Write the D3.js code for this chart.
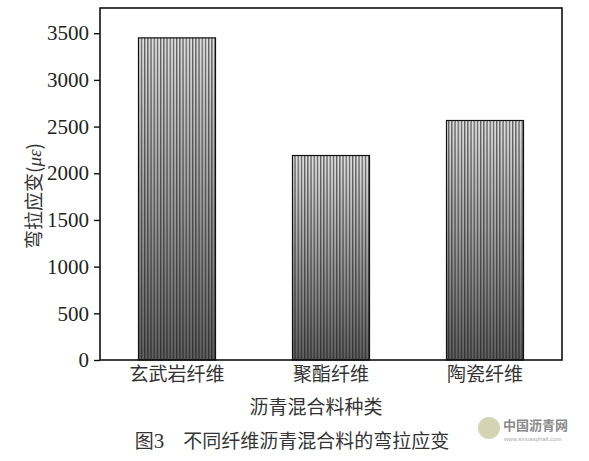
<!DOCTYPE html>
<html><head><meta charset="utf-8">
<script src="https://cdn.jsdelivr.net/npm/d3@7"></script>
<style>body{margin:0;background:#fff;}svg{display:block;}</style>
</head><body>
<script>
const categories = ["玄武岩纤维", "聚酯纤维", "陶瓷纤维"];
const values = [3450, 2190, 2565];
const yTicks = [0, 500, 1000, 1500, 2000, 2500, 3000, 3500];
const yLabel = "弯拉应变(με)";
const xLabel = "沥青混合料种类";
const caption = "图3\u3000不同纤维沥青混合料的弯拉应变";

const W = 589, H = 461;
const m = {left: 100, right: 27, top: 8, bottom: 101};
const SERIF = "'Liberation Serif', 'DejaVu Serif', serif";
const CJK = "'Noto Sans CJK SC', sans-serif";
const svg = d3.select("body").append("svg").attr("width", W).attr("height", H);
const defs = svg.append("defs");
const grad = defs.append("linearGradient").attr("id","g").attr("x1",0).attr("y1",0).attr("x2",0).attr("y2",1);
grad.append("stop").attr("offset","0%").attr("stop-color","#e0e0e0");
grad.append("stop").attr("offset","100%").attr("stop-color","#5e5e5e");
const pat = defs.append("pattern").attr("id","p").attr("patternUnits","userSpaceOnUse")
  .attr("width",3.2).attr("height",10);
pat.append("rect").attr("x",0).attr("y",0).attr("width",1.3).attr("height",10).attr("fill","#1a1a1a").attr("opacity",0.65);

const x = d3.scaleBand().domain(categories).range([m.left, W - m.right]).paddingInner(0.5).paddingOuter(0.25);
const y = d3.scaleLinear().domain([0, 3770]).range([H - m.bottom, m.top]);

const g = svg.append("g");
const bars = g.selectAll(".bar").data(categories).enter().append("g");
bars.append("rect").attr("x", d => x(d)).attr("width", x.bandwidth())
  .attr("y", (d,i) => y(values[i])).attr("height", (d,i) => y(0) - y(values[i]))
  .attr("fill","url(#g)");
bars.append("rect").attr("x", d => x(d)).attr("width", x.bandwidth())
  .attr("y", (d,i) => y(values[i])).attr("height", (d,i) => y(0) - y(values[i]))
  .attr("fill","url(#p)").attr("stroke","#111").attr("stroke-width",1.2);

svg.append("rect").attr("x", m.left).attr("y", m.top).attr("width", W - m.right - m.left)
  .attr("height", H - m.bottom - m.top).attr("fill","none").attr("stroke","#111").attr("stroke-width",1.6);

const yAxis = svg.append("g").attr("transform", `translate(${m.left},0)`)
  .call(d3.axisLeft(y).tickValues(yTicks).tickSize(6).tickPadding(5).tickFormat(d3.format("d")));
yAxis.attr("font-family", null).attr("font-size", null);
yAxis.select(".domain").remove();
yAxis.selectAll("line").attr("stroke","#111").attr("stroke-width",1.4);
yAxis.selectAll("text").style("font-family", SERIF).style("font-size","21px").attr("fill","#222");

const xAxis = svg.append("g").attr("transform", `translate(0,${H - m.bottom})`)
  .call(d3.axisBottom(x).tickSize(0).tickPadding(7));
xAxis.attr("font-family", null).attr("font-size", null);
xAxis.select(".domain").remove();
xAxis.selectAll("text").style("font-family", CJK).style("font-size","19px").attr("fill","#333");

svg.append("text").attr("x", 316).attr("y", 414).attr("text-anchor","middle")
  .style("font-family", CJK).style("font-size","19px").attr("fill","#333").text(xLabel);

const yl = svg.append("text").attr("transform","translate(41,196) rotate(-90)").attr("text-anchor","middle")
  .style("font-family", CJK).style("font-size","19px").attr("fill","#333");
yl.append("tspan").text("弯拉应变(");
yl.append("tspan").style("font-family", SERIF).style("font-style","italic").text("με");
yl.append("tspan").text(")");

const cap = svg.append("text").attr("x", 292).attr("y", 448).attr("text-anchor","middle")
  .style("font-family", CJK).style("font-size","19px").attr("fill","#333");
cap.append("tspan").text("图");
cap.append("tspan").style("font-family", SERIF).style("font-size","21px").text("3");
cap.append("tspan").text("\u3000不同纤维沥青混合料的弯拉应变");

svg.append("circle").attr("cx", 489).attr("cy", 428).attr("r", 11).attr("fill","#c9c9a0").attr("opacity",0.8);
svg.append("text").attr("x", 503).attr("y", 430).style("font-family", CJK)
  .style("font-size","13px").attr("font-weight","bold").attr("fill","#8a8a8a").text("中国沥青网");
svg.append("text").attr("x", 504).attr("y", 441).style("font-family","'Liberation Sans', sans-serif")
  .style("font-size","6px").attr("fill","#aaa").text("www.sinoasphalt.com");
</script>
</body></html>
